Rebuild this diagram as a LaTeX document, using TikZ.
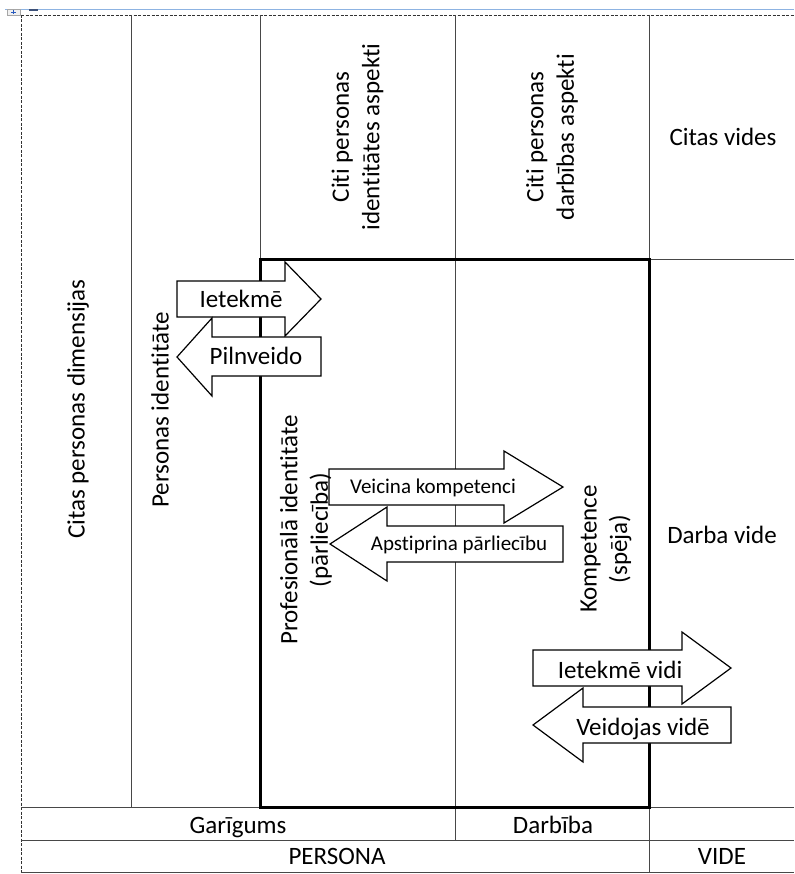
\documentclass[tikz,border=0pt]{standalone}
\usepackage{fontspec}
\setmainfont{Carlito}[Ligatures=NoCommon, RawFeature={-liga;-calt;-dlig}]
\begin{document}
\begin{tikzpicture}[x=1pt,y=-1pt,
  thinline/.style={line width=1pt, draw=black!72},
  frameline/.style={line width=0.9pt, draw=black!80, dash pattern=on 3pt off 1.5pt},
  boldbox/.style={line width=3pt, draw=black},
  block/.style={draw=black, line width=1.2pt, fill=white, line join=miter},
  lbl/.style={font=\fontsize{25}{30.5}\selectfont, align=center, inner sep=0pt},
  smalllbl/.style={font=\fontsize{21}{25}\selectfont, inner sep=0pt},
]
\useasboundingbox (0,0) rectangle (794,874);

% editor guide line and table handle
\draw[line width=1pt, draw={rgb,255:red,141;green,179;blue,226}] (5,10) -- (794,10);
\draw[line width=0.6pt, draw=black!35, fill=black!6] (7,9) rectangle (20,15);
\draw[line width=0.6pt, draw={rgb,255:red,40;green,90;blue,190}] (11,12) -- (16,12) (13.5,10) -- (13.5,14);
\draw[line width=1.2pt, draw={rgb,255:red,60;green,80;blue,120}] (29,10) -- (38,10);

% outer frame (dashed edges)
\draw[frameline] (21,15) -- (794,15);
\draw[frameline] (21,15) -- (21,872);

% column and row rules
\draw[thinline] (131,15) -- (131,807);
\draw[thinline] (260,15) -- (260,260);
\draw[thinline] (455,15) -- (455,840);
\draw[thinline] (649,15) -- (649,260);
\draw[thinline] (649,807) -- (649,872);
\draw[thinline] (649,260) -- (794,260);
\draw[thinline] (21,807) -- (794,807);
\draw[thinline] (21,840) -- (794,840);
\draw[thinline] (21,872) -- (794,872);

% core box: professional identity and competence
\draw[boldbox] (260,260) rectangle (649,807);

% block arrows
\draw[block] (177,281) -- (285,281) -- (285,262) -- (321,299) -- (285,336) -- (285,317) -- (177,317) -- cycle;
\draw[block] (321,337) -- (212,337) -- (212,318) -- (177,357) -- (212,396) -- (212,376) -- (321,376) -- cycle;
\draw[block] (329,469) -- (504,469) -- (504,451) -- (563,487) -- (504,523) -- (504,505) -- (329,505) -- cycle;
\draw[block] (563,526) -- (387,526) -- (387,507) -- (330,544) -- (387,581) -- (387,562) -- (563,562) -- cycle;
\draw[block] (533,650) -- (682,650) -- (682,632) -- (731,668) -- (682,704) -- (682,686) -- (533,686) -- cycle;
\draw[block] (731,707) -- (583,707) -- (583,688) -- (533,725) -- (583,762) -- (583,743) -- (731,743) -- cycle;

% arrow labels
\node[lbl, anchor=base] (ietekme) at (241,307) {Ietekmē};
\node[lbl, anchor=base] (pilnveido) at (256,364) {Pilnveido};
\node[smalllbl, anchor=base] (veicina) at (433,493) {Veicina kompetenci};
\node[smalllbl, anchor=base] (apstiprina) at (459,550) {Apstiprina pārliecību};
\node[lbl, anchor=base] (ietekmevidi) at (620,678) {Ietekmē vidi};
\node[lbl, anchor=base] (veidojas) at (643,735) {Veidojas vidē};

% vertical cell labels
\node[lbl, rotate=90] (dimensijas) at (78,409) {Citas personas dimensijas};
\node[lbl, rotate=90] (identitate) at (160,410) {Personas identitāte};
\node[lbl, rotate=90] (identaspekti) at (357.5,137) {Citi personas\\identitātes aspekti};
\node[lbl, rotate=90] (darbaspekti) at (552,137) {Citi personas\\darbības aspekti};
\node[lbl, rotate=90] (profesionala) at (306,530) {Profesionālā identitāte\\(pārliecība)};
\node[lbl, rotate=90] (kompetence) at (606,549) {Kompetence\\(spēja)};

% horizontal cell labels
\node[lbl, anchor=base] (citasvides) at (723,146) {Citas vides};
\node[lbl, anchor=base] (darbavide) at (722,543) {Darba vide};
\node[lbl, anchor=base] (garigums) at (238,833) {Garīgums};
\node[lbl, anchor=base] (darbiba) at (553,833) {Darbība};
\node[lbl, anchor=base] (persona) at (337,864) {PERSONA};
\node[lbl, anchor=base] (vide) at (722,864) {VIDE};
\end{tikzpicture}
\end{document}
